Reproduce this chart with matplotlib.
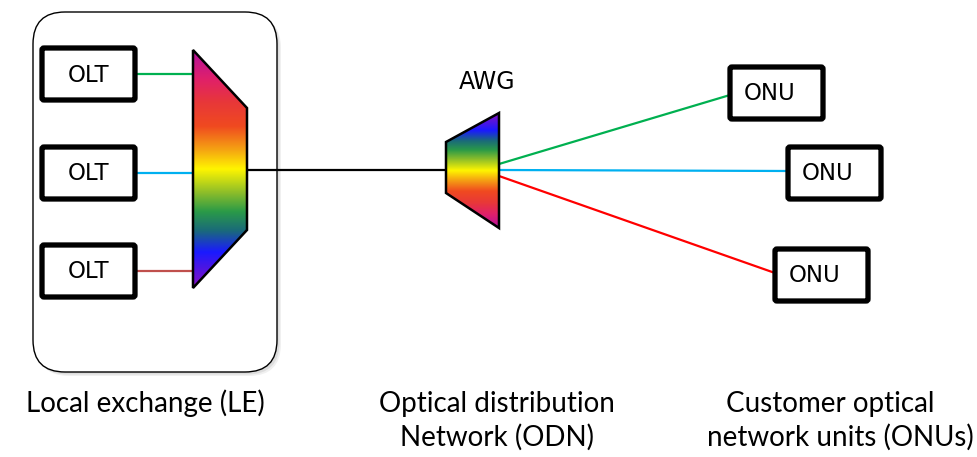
import numpy as np
import matplotlib
matplotlib.use("Agg")
import matplotlib.pyplot as plt
from matplotlib.patches import Polygon, FancyBboxPatch
from matplotlib.colors import LinearSegmentedColormap

# labels and link colours
olt_labels = ["OLT", "OLT", "OLT"]
olt_link_colors = ["#00b050", "#00b0f0", "#c0504d"]
onu_labels = ["ONU", "ONU", "ONU"]
onu_link_colors = ["#00b050", "#00b0f0", "#ff0000"]
awg_label = "AWG"
section_lines = [["Local exchange (LE)"],
                 ["Optical distribution", "Network (ODN)"],
                 ["Customer optical", "network units (ONUs)"]]

# spectrum used to fill the mux / AWG
spectrum = LinearSegmentedColormap.from_list("spectrum", [
    (0.00, "#b4109e"), (0.12, "#e0206a"), (0.22, "#e83838"),
    (0.32, "#f04a20"), (0.42, "#f5a512"), (0.50, "#fff500"),
    (0.60, "#8cbd2a"), (0.68, "#2a9a48"), (0.76, "#1a6a7a"),
    (0.85, "#1a1aff"), (1.00, "#8a10c0")])

fig = plt.figure(figsize=(9.77, 4.57), dpi=100)
ax = fig.add_axes([0, 0, 1, 1])
ax.set_xlim(0, 977)
ax.set_ylim(457, 0)
ax.axis("off")

# local exchange rounded frame with soft shadow
for off, a in [(4, 0.06), (2.5, 0.08)]:
    ax.add_patch(FancyBboxPatch((33 + off, 12 + off), 244, 360,
                                boxstyle="round,pad=0,rounding_size=32",
                                fc="black", ec="none", alpha=a, zorder=0))
ax.add_patch(FancyBboxPatch((33, 12), 244, 360,
                            boxstyle="round,pad=0,rounding_size=32",
                            fc="white", ec="black", lw=1.0, zorder=1))


def box(x0, y0, w, h, label, tx=None):
    ax.add_patch(FancyBboxPatch((x0, y0), w, h, boxstyle="round,pad=0,rounding_size=2",
                                fc="white", ec="black", lw=3.8, zorder=5))
    if tx is None:
        tx = x0 + w / 2
    ax.text(tx, y0 + h / 2 + 1, label, ha="center", va="center",
            fontsize=16.5, family="DejaVu Sans", zorder=6)


def gradient_poly(pts, ytop, ybot, cmap_rev=False):
    poly = Polygon(pts, closed=True, fc="none", ec="black", lw=1.8, zorder=4, joinstyle="miter")
    ax.add_patch(poly)
    xs = [p[0] for p in pts]
    grad = np.linspace(0, 1, 256)[:, None]
    if cmap_rev:
        grad = grad[::-1]
    im = ax.imshow(grad, cmap=spectrum, aspect="auto", origin="upper",
                   extent=(min(xs), max(xs), ybot, ytop), zorder=3,
                   interpolation="bilinear")
    im.set_clip_path(poly)


# OLT boxes and links to mux
olt_y = [48, 147, 245]
for y0, lab, c in zip(olt_y, olt_labels, olt_link_colors):
    box(42, y0, 93, 52, lab)
    ax.plot([135, 193], [y0 + 26, y0 + 26], color=c, lw=1.6, zorder=2)

# mux
gradient_poly([(193, 50), (247, 108), (247, 230), (193, 288)], 50, 288)

# trunk fibre
ax.plot([247, 446], [170, 170], color="black", lw=1.6, zorder=2)

# AWG
gradient_poly([(446, 142), (499, 113), (499, 228), (446, 193)], 113, 228, cmap_rev=True)
ax.text(487, 82, awg_label, ha="center", va="center", fontsize=17, family="DejaVu Sans")

# ONU boxes and drop fibres
onu_boxes = [(730, 67), (788, 147), (775, 249)]
onu_ends = [(730, 95), (788, 171), (775, 273)]
onu_starts = [(499, 164), (499, 170), (499, 176)]
for (x0, y0), (ex, ey), (sx, sy), lab, c in zip(onu_boxes, onu_ends, onu_starts,
                                                  onu_labels, onu_link_colors):
    ax.plot([sx, ex], [sy, ey], color=c, lw=1.6, zorder=2)
    box(x0, y0, 93, 52, lab, tx=x0 + 40)

# section captions, one text per line
caption_x = [[145], [497, 497], [830, 840]]
baselines = [412, 446]
for lines, xs in zip(section_lines, caption_x):
    for line, x, yb in zip(lines, xs, baselines):
        ax.text(x, yb, line, ha="center", va="baseline", fontsize=20, family="Lato")

fig.savefig("out.png", dpi=100)
